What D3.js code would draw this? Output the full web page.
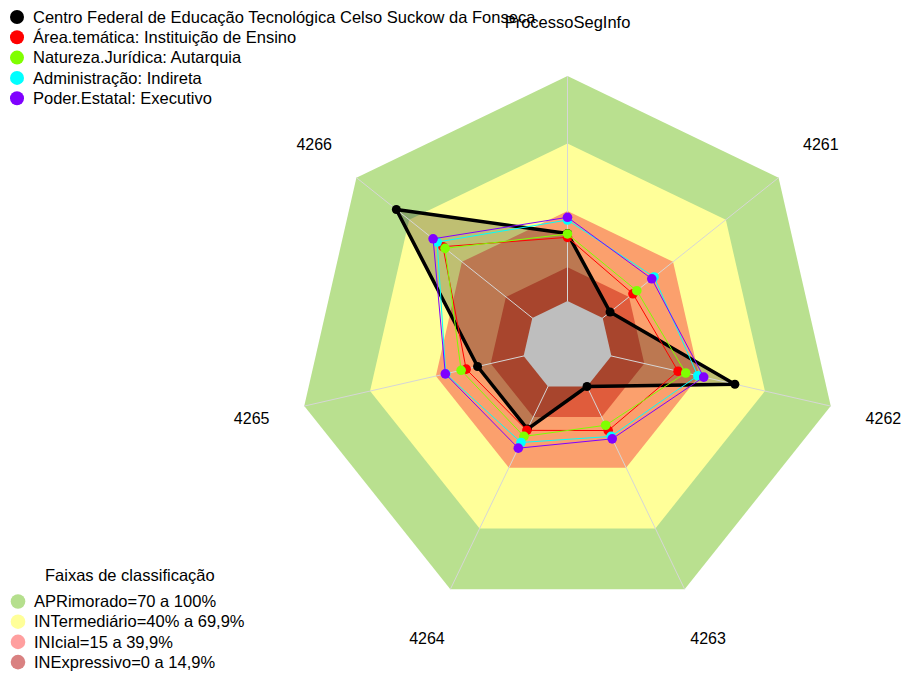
<!DOCTYPE html>
<html>
<head>
<meta charset="utf-8">
<script src="https://cdn.jsdelivr.net/npm/d3@7"></script>
<style>
  body { margin: 0; background: #fff; }
  svg { display: block; }
  text { font-family: "Liberation Sans", Arial, sans-serif; font-size: 16px; fill: #000; }
  .legend text { font-size: 16.5px; }
</style>
</head>
<body>
<svg id="chart" width="901" height="673"></svg>
<script>
// Radar axes (clockwise from the top)
const axes = ["ProcessoSegInfo", "4261", "4262", "4263", "4264", "4265", "4266"];

// Series, in drawing order
const seriesNames = [
  "Centro Federal de Educação Tecnológica Celso Suckow da Fonseca",
  "Área.temática: Instituição de Ensino",
  "Natureza.Jurídica: Autarquia",
  "Administração: Indireta",
  "Poder.Estatal: Executivo"
];
const seriesColors = ["#000000", "#ff0000", "#80ff00", "#00ffff", "#8000ff"];
const valuesCentro        = [30.0, 4.2, 56.3, 0.0, 21.0, 21.0, 77.3];
const valuesAreaTematica  = [28.3, 17.2, 30.4, 21.7, 21.6, 26.2, 50.8];
const valuesNatureza      = [29.8, 19.4, 33.9, 19.1, 24.6, 28.5, 49.6];
const valuesAdministracao = [36.0, 29.2, 39.4, 24.6, 27.6, 35.5, 54.1];
const valuesPoder         = [37.2, 27.9, 42.1, 25.8, 30.4, 35.7, 56.4];
const seriesValues = [valuesCentro, valuesAreaTematica, valuesNatureza, valuesAdministracao, valuesPoder];

// Classification bands (upper limit of each band) and the scale range
const bandUpper  = [100, 70, 40, 15];
const bandFill   = ["#b9e08f", "#ffff99", "#fba06d", "#e05c3c"];
const bandLabels = ["APRimorado=70 a 100%", "INTermediário=40% a 69,9%", "INIcial=15 a 39,9%", "INExpressivo=0 a 14,9%"];
const bandLegendColors = ["#b5df8d", "#ffff99", "#ff9f9f", "#d98181"];
const legendTitle = "Faixas de classificação";
const scaleMin = -20, scaleMax = 100;

const svg = d3.select("#chart");
const cx = 567.5, cy = 346, R = 270;
const r = d3.scaleLinear().domain([scaleMin, scaleMax]).range([0, R]);
const angle = d3.scalePoint().domain(axes).range([0, 2 * Math.PI * (axes.length - 1) / axes.length]);

const g = svg.append("g").attr("transform", `translate(${cx},${cy})`);
const radial = d3.lineRadial().angle((d, i) => angle(axes[i])).radius(d => r(d)).curve(d3.curveLinearClosed);
const ring = v => axes.map(() => v);

// Band heptagons, outer first
g.selectAll("path.band").data(bandUpper).join("path")
  .attr("class", "band")
  .attr("d", v => radial(ring(v)))
  .attr("fill", (v, i) => bandFill[i]);

// Shaded area of the first series
g.append("path")
  .attr("d", radial(valuesCentro))
  .attr("fill", "rgba(0,0,0,0.25)");

// Spokes
g.selectAll("line.spoke").data(axes).join("line")
  .attr("class", "spoke")
  .attr("x1", 0).attr("y1", 0)
  .attr("x2", a => r(scaleMax) * Math.sin(angle(a)))
  .attr("y2", a => -r(scaleMax) * Math.cos(angle(a)))
  .attr("stroke", "#d6d6d6").attr("stroke-width", 1);

// Grey core below zero
g.append("path").attr("d", radial(ring(0))).attr("fill", "#bebebe");

// Series outlines and points
seriesValues.forEach((vals, s) => {
  const thick = s === 0;
  g.append("path")
    .attr("d", radial(vals))
    .attr("fill", "none")
    .attr("stroke", seriesColors[s])
    .attr("stroke-width", thick ? 3.5 : 1)
    .attr("stroke-linejoin", "round");
  g.selectAll(null).data(vals).join("circle")
    .attr("cx", (d, i) => r(d) * Math.sin(angle(axes[i])))
    .attr("cy", (d, i) => -r(d) * Math.cos(angle(axes[i])))
    .attr("r", thick ? 4.5 : 4.8)
    .attr("fill", seriesColors[s]);
});

// Series legend (top left)
const legTop = svg.append("g").attr("class", "legend");
seriesNames.forEach((name, i) => {
  const y = 17 + i * 20.3;
  legTop.append("circle").attr("cx", 17).attr("cy", y).attr("r", 7).attr("fill", seriesColors[i]);
  legTop.append("text").attr("x", 33).attr("y", y).attr("dy", "0.35em").text(name);
});

// Axis labels
const labelR = R * 1.2;
svg.append("g").attr("transform", `translate(${cx},${cy})`)
  .selectAll("text.axis").data(axes).join("text")
  .attr("class", "axis")
  .attr("x", a => labelR * Math.sin(angle(a)))
  .attr("y", a => -labelR * Math.cos(angle(a)))
  .attr("dy", "0.35em")
  .attr("text-anchor", "middle")
  .style("font-size", a => a.length > 4 ? "16.5px" : "16px")
  .text(a => a);

// Band legend (bottom left)
const legBot = svg.append("g").attr("class", "legend");
legBot.append("text").attr("x", 45).attr("y", 575).attr("dy", "0.35em").text(legendTitle);
bandLabels.forEach((lab, i) => {
  const y = 601.5 + i * 20.2;
  legBot.append("circle").attr("cx", 18).attr("cy", y).attr("r", 7.3).attr("fill", bandLegendColors[i]);
  legBot.append("text").attr("x", 34).attr("y", y).attr("dy", "0.35em").text(lab);
});
</script>
</body>
</html>
